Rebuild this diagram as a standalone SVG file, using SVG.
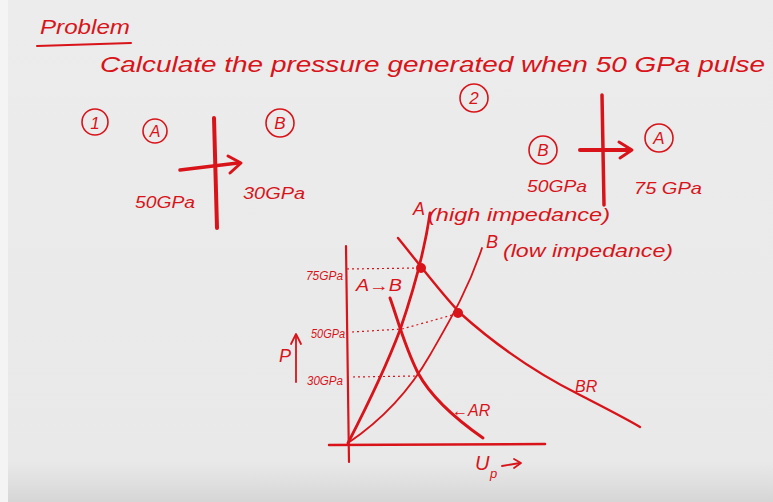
<svg xmlns="http://www.w3.org/2000/svg" width="773" height="502" viewBox="0 0 773 502">
<defs>
<linearGradient id="bg" x1="0" y1="0" x2="0" y2="1">
<stop offset="0" stop-color="#ececec"/>
<stop offset="0.92" stop-color="#e9e9e9"/>
<stop offset="1" stop-color="#d6d6d6"/>
</linearGradient>
</defs>
<style>
.t{font-family:"Liberation Sans",Arial,sans-serif;fill:#d8141a;font-style:italic}
.s{fill:none;stroke:#d8141a;stroke-linecap:round;stroke-linejoin:round}
.c{fill:none;stroke:#d8141a;stroke-width:1.6}
.d{fill:none;stroke:#d8141a;stroke-width:1.2;stroke-dasharray:2 3}
</style>
<rect width="773" height="502" fill="url(#bg)"/>
<rect x="0" y="0" width="8" height="502" fill="#f4f4f4"/>

<g id="title">
<text class="t" x="40" y="34" font-size="20" textLength="90" lengthAdjust="spacingAndGlyphs">Problem</text>
<path class="s" stroke-width="2" d="M37,46 L131,43"/>
<text class="t" x="100" y="72" font-size="22" textLength="665" lengthAdjust="spacingAndGlyphs">Calculate the pressure generated when 50 GPa pulse</text>
</g>

<g id="case1">
<circle class="c" cx="95" cy="122" r="13"/>
<text class="t" x="95" y="129" font-size="17" text-anchor="middle">1</text>
<circle class="c" cx="155" cy="131" r="12"/>
<text class="t" x="155" y="137" font-size="16" text-anchor="middle">A</text>
<circle class="c" cx="280" cy="123" r="14"/>
<text class="t" x="280" y="129" font-size="17" text-anchor="middle">B</text>
<path class="s" stroke-width="4" d="M214,118 L217,228"/>
<path class="s" stroke-width="3.5" d="M180,170 L238,163"/>
<path class="s" stroke-width="3" d="M228,156 L241,163 L230,173"/>
<text class="t" x="135" y="208" font-size="16" textLength="60" lengthAdjust="spacingAndGlyphs">50GPa</text>
<text class="t" x="243" y="199" font-size="16" textLength="62" lengthAdjust="spacingAndGlyphs">30GPa</text>
</g>

<g id="case2">
<circle class="c" cx="474" cy="98" r="14"/>
<text class="t" x="474" y="104" font-size="17" text-anchor="middle">2</text>
<circle class="c" cx="543" cy="150" r="14"/>
<text class="t" x="543" y="156" font-size="17" text-anchor="middle">B</text>
<path class="s" stroke-width="3.5" d="M602,95 L604,205"/>
<path class="s" stroke-width="4" d="M580,150 L628,150"/>
<path class="s" stroke-width="3" d="M619,142 L632,150 L620,158"/>
<circle class="c" cx="659" cy="138" r="14"/>
<text class="t" x="659" y="144" font-size="17" text-anchor="middle">A</text>
<text class="t" x="527" y="192" font-size="17" textLength="60" lengthAdjust="spacingAndGlyphs">50GPa</text>
<text class="t" x="634" y="194" font-size="17" textLength="68" lengthAdjust="spacingAndGlyphs">75 GPa</text>
</g>

<g id="graph">
<path class="s" stroke-width="2.2" d="M346,246 L349,462"/>
<path class="s" stroke-width="2.5" d="M329,445 L545,444"/>
<path class="s" stroke-width="1.8" d="M296,382 L296,336"/>
<path class="s" stroke-width="1.8" d="M291,344 L296,334 L301,344"/>
<text class="t" x="279" y="362" font-size="18">P</text>
<text class="t" x="475" y="470" font-size="20">U</text>
<text class="t" x="490" y="478" font-size="13">p</text>
<path class="s" stroke-width="1.8" d="M502,466 L520,463"/>
<path class="s" stroke-width="1.8" d="M514,459 L521,463 L514,468"/>

<path class="d" d="M347,269 L419,268"/>
<path class="d" d="M352,332 L402,329 L456,314"/>
<path class="d" d="M353,377 L416,376"/>

<path class="s" stroke-width="2.8" d="M348,443 C365,410 385,370 400,330 C412,295 424,255 430,213"/>
<path class="s" stroke-width="1.8" d="M348,443 C385,418 410,390 430,355 C450,320 468,290 482,248"/>
<path class="s" stroke-width="2.4" d="M398,238 C420,265 440,292 460,313 C490,340 530,370 580,395 C605,408 625,418 640,427"/>
<path class="s" stroke-width="3" d="M390,298 C398,320 404,345 418,373 C430,395 450,415 483,438"/>
<circle cx="421" cy="268" r="5" fill="#d8141a"/>
<circle cx="458" cy="313" r="5" fill="#d8141a"/>

<text class="t" x="306" y="280" font-size="12" textLength="37" lengthAdjust="spacingAndGlyphs">75GPa</text>
<text class="t" x="311" y="338" font-size="12" textLength="34" lengthAdjust="spacingAndGlyphs">50GPa</text>
<text class="t" x="307" y="385" font-size="12" textLength="36" lengthAdjust="spacingAndGlyphs">30GPa</text>
<text class="t" x="356" y="291" font-size="16" textLength="46" lengthAdjust="spacingAndGlyphs">A→B</text>
<text class="t" x="452" y="416" font-size="16">←AR</text>
<text class="t" x="575" y="392" font-size="16">BR</text>
<text class="t" x="413" y="215" font-size="18">A</text>
<text class="t" x="428" y="221" font-size="19" textLength="182" lengthAdjust="spacingAndGlyphs">(high impedance)</text>
<text class="t" x="486" y="248" font-size="18">B</text>
<text class="t" x="503" y="257" font-size="19" textLength="170" lengthAdjust="spacingAndGlyphs">(low impedance)</text>
</g>
</svg>
